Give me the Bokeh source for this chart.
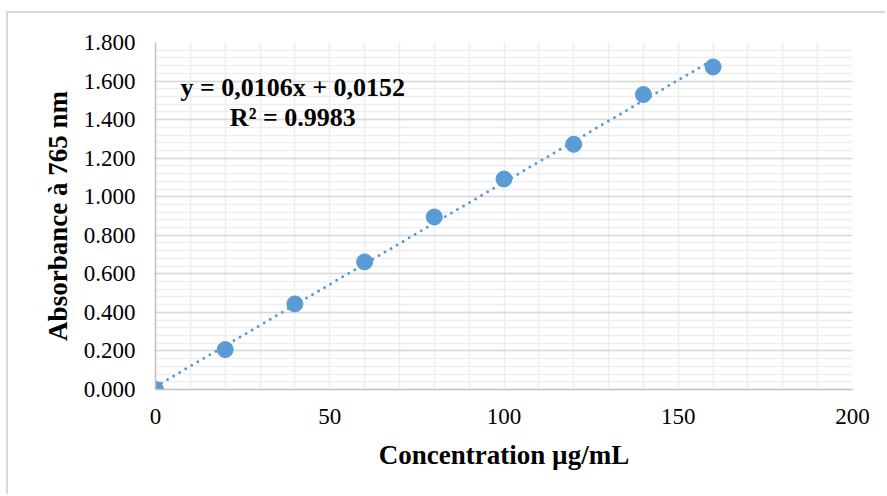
from bokeh.plotting import figure
from bokeh.models import FixedTicker, NumeralTickFormatter, Range1d, Label
from bokeh.embed import file_html
from bokeh.resources import INLINE

# Calibration data: concentration (µg/mL) vs absorbance at 765 nm
concentration = [0, 20, 40, 60, 80, 100, 120, 140, 160]
absorbance = [0.000, 0.207, 0.444, 0.662, 0.895, 1.092, 1.272, 1.530, 1.673]

# Linear regression reported on the chart
slope = 0.0106
intercept = 0.0152
equation_text = "y = 0,0106x + 0,0152"
r2_text = "R² = 0.9983"

x_ticks = [0, 50, 100, 150, 200]
y_ticks = [0.0, 0.2, 0.4, 0.6, 0.8, 1.0, 1.2, 1.4, 1.6, 1.8]

x_title = "Concentration µg/mL"
y_title = "Absorbance à 765 nm"

BLUE = "#5B9BD5"
FONT = "'Times New Roman', 'Liberation Serif', serif"

p = figure(
    width=879, height=483,
    x_range=Range1d(0, 200), y_range=Range1d(0, 1.8),
    output_backend="svg", toolbar_location=None,
    min_border_left=147, min_border_top=29,
    min_border_right=35, min_border_bottom=107,
)
p.margin = (11, 0, 0, 6)
p.styles = {"border-left": "2px solid #d9d9d9", "border-top": "2px solid #d9d9d9"}
p.outline_line_color = None
p.background_fill_color = "white"
p.border_fill_color = "white"

# grid: light verticals every 10, horizontal majors every 0.2 with minors every 0.04
p.xgrid.ticker = FixedTicker(ticks=list(range(0, 201, 10)))
p.xgrid.grid_line_color = "#eeeeee"
p.xgrid.grid_line_width = 1.5
p.ygrid.ticker = FixedTicker(
    ticks=y_ticks,
    minor_ticks=[round(i * 0.04, 2) for i in range(0, 46)],
)
p.ygrid.grid_line_color = "#d9d9d9"
p.ygrid.grid_line_width = 1.5
p.ygrid.minor_grid_line_color = "#eeeeee"
p.ygrid.minor_grid_line_width = 1.5

for ax in (p.xaxis[0], p.yaxis[0]):
    ax.axis_line_color = "#bfbfbf"
    ax.axis_line_width = 1.5
    ax.major_tick_line_color = None
    ax.minor_tick_line_color = None
    ax.major_tick_in = 0
    ax.major_tick_out = 0
    ax.minor_tick_in = 0
    ax.minor_tick_out = 0
    ax.major_label_text_font = FONT
    ax.major_label_text_font_style = "normal"
    ax.major_label_text_font_size = "23px"
    ax.major_label_text_color = "black"
    ax.axis_label_text_font = FONT
    ax.axis_label_text_font_size = "27px"
    ax.axis_label_text_font_style = "bold"
    ax.axis_label_text_color = "black"

p.xaxis.ticker = FixedTicker(ticks=x_ticks)
p.yaxis.ticker = FixedTicker(ticks=y_ticks)
p.yaxis.formatter = NumeralTickFormatter(format="0.000")
p.xaxis.major_label_standoff = 19
p.yaxis.major_label_standoff = 20
p.xaxis.axis_label = x_title
p.yaxis.axis_label = y_title
p.xaxis.axis_label_standoff = 13
p.yaxis.axis_label_standoff = 8

# data points
p.scatter(concentration, absorbance, size=16, fill_color=BLUE, line_color=BLUE)

# dotted linear trendline
trend_x = [concentration[0], concentration[-1]]
trend_y = [slope * v + intercept for v in trend_x]
p.line(trend_x, trend_y, line_color=BLUE, line_width=3,
       line_dash="0 7", line_cap="round")

# regression equation and coefficient of determination
for txt, yy in ((equation_text, 1.567), (r2_text, 1.411)):
    p.add_layout(Label(
        x=39.4, y=yy, text=txt, text_align="center",
        text_baseline="alphabetic", text_font=FONT,
        text_font_size="26px", text_font_style="bold", text_color="black",
    ))

open("out.html", "w").write(file_html(p, INLINE))
